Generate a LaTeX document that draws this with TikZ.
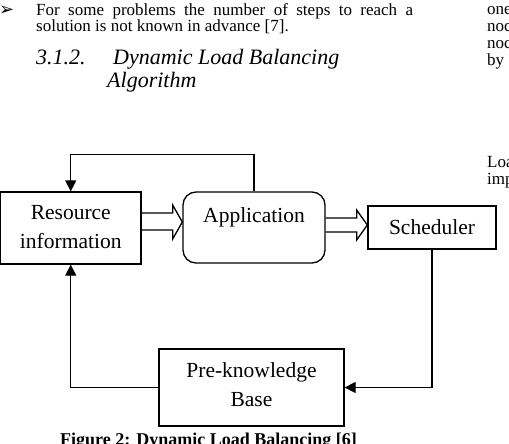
\documentclass[tikz,border=0pt]{standalone}
\usepackage{fontspec}
\setmainfont{Liberation Serif}
\newfontfamily\symfont{DejaVu Sans}
\usetikzlibrary{arrows.meta,calc}
\tikzset{
  txt/.style={inner sep=0pt, anchor=base west},
  body/.style={txt, font=\fontsize{17}{20}\selectfont},
  head/.style={txt, font=\fontsize{22}{26}\selectfont\itshape},
  boxbase/.style={draw, line width=1.3pt, inner sep=0pt, align=center,
    font=\fontsize{21.5}{29}\selectfont},
  conn/.style={line width=1.3pt, -{Triangle[length=11pt,width=11pt]}},
  hollow/.style={line width=1.3pt, line join=miter},
}
\begin{document}
\begin{tikzpicture}[x=1pt,y=-1pt]
\useasboundingbox (0,0) rectangle (509,444);
\clip (0,0) rectangle (509,444);
% page text
\node[txt, font=\fontsize{18}{20}\symfont] (bul) at (-1,16) {➢};
\node[body] (l1) at (36,15.5) {\makebox[377pt][s]{For some problems the number of steps to reach a}};
\node[body] (l2) at (36,32) {solution is not known in advance [7].};
\node[head] (h1) at (36,65) {3.1.2.};
\node[head] (h2) at (113,65) {Dynamic Load Balancing};
\node[head] (h3) at (107,88) {Algorithm};
\node[body] (r1) at (487,15) {one};
\node[body] (r2) at (487,32) {noc};
\node[body] (r3) at (487,49) {noc};
\node[body] (r4) at (487,66) {by};
\node[body] (r5) at (487,167) {Loa};
\node[body] (r6) at (487,184) {imp};
% diagram
\node[boxbase, minimum width=140.5pt, minimum height=72pt,
      text height=42pt, text depth=2pt] (res) at (70.75,228) {Resource\\information};
\node[boxbase, rounded corners=13pt, minimum width=142pt, minimum height=71pt,
      text height=15pt, text depth=24.6pt] (app) at (254,227.5) {Application};
\node[boxbase, minimum width=128pt, minimum height=43pt,
      text height=15pt, text depth=2pt] (sch) at (432,227.5) {Scheduler};
\node[boxbase, minimum width=185pt, minimum height=77pt,
      text height=40.4pt, text depth=2pt] (pkb) at (251.5,387.5) {Pre-knowledge\\Base};
% hollow arrows
\draw[hollow] ($(res.east)+(0,-15)$) -- ++(31,0) -- ++(0,-8) -- ($(app.west)+(0,-5.5)$)
  -- ($(res.east)+(31,11)$) -- ++(0,-9) -- ($(res.east)+(0,2)$);
\draw[hollow] ($(app.east)+(0,-9.5)$) -- ++(31,0) -- ++(0,-8) -- ($(sch.west)+(0,-2.5)$)
  -- ($(app.east)+(31,12.5)$) -- ++(0,-8) -- ($(app.east)+(0,4.5)$);
% connectors
\draw[conn] (app.north) -- ++(0,-37) -| (res.north);
\draw[conn] (sch.south) |- (pkb.east);
\draw[conn] (pkb.west) -| (res.south);
% caption
\node[txt, font=\fontsize{18}{21}\selectfont\bfseries] (cap) at (60,445) {Figure 2: Dynamic Load Balancing [6]};
\end{tikzpicture}
\end{document}
